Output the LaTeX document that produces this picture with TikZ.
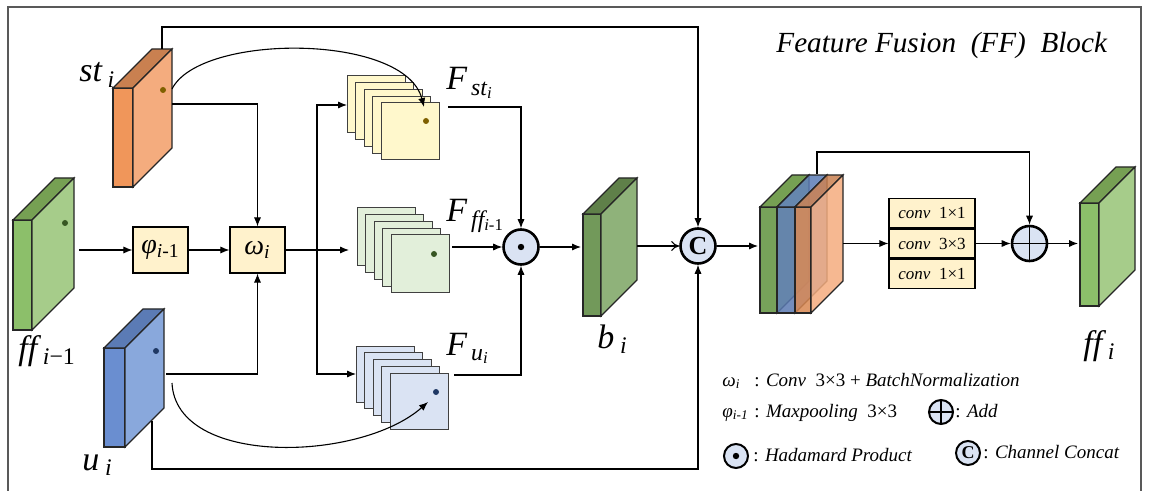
\documentclass[tikz,border=0pt]{standalone}
\usepackage{fontspec}
\setmainfont{Liberation Serif}
\usetikzlibrary{arrows.meta,positioning}

\definecolor{stfront}{HTML}{F0965A}
\definecolor{stside}{HTML}{F4AC7E}
\definecolor{sttop}{HTML}{C98050}
\definecolor{fffront}{HTML}{8CBF6A}
\definecolor{ffside}{HTML}{A6CC8A}
\definecolor{fftop}{HTML}{76A053}
\definecolor{ufront}{HTML}{6A8ED0}
\definecolor{uside}{HTML}{89A8DC}
\definecolor{utop}{HTML}{5B7BB5}
\definecolor{bfront}{HTML}{72995A}
\definecolor{bside}{HTML}{8FB27A}
\definecolor{btop}{HTML}{5F8049}
\definecolor{boxyellow}{HTML}{FFF2CC}
\definecolor{cardy}{HTML}{FFF8CC}
\definecolor{cardg}{HTML}{E2EFDA}
\definecolor{cardb}{HTML}{DAE3F3}
\definecolor{circfill}{HTML}{DAE3F3}
\definecolor{stdot}{HTML}{7F6000}
\definecolor{ffdot}{HTML}{375623}
\definecolor{udot}{HTML}{1F3864}

% feature map drawn as a slab: x y w h depth front side top
\newcommand{\slab}[8]{%
  \filldraw[slabline, fill=#6] (#1,#2) rectangle ++(#3,#4);
  \filldraw[slabline, fill=#8] (#1,#2) -- ++(#3,0) -- ++(#5,-#5) -- ++(-#3,0) -- cycle;
  \filldraw[slabline, fill=#7] (#1+#3,#2) -- ++(#5,-#5) -- ++(0,#4) -- ++(-#5,#5) -- cycle;
}
\newcommand{\sbs}[1]{\textsubscript{#1}}

\tikzset{
  slabline/.style={line width=0.6pt, draw=black!85},
  card/.style={line width=0.5pt, draw=black!75},
  conn/.style={line width=0.55pt},
  arr/.style={conn, -{Latex[length=4.5pt,width=3.6pt]}},
  frame/.style={line width=0.8pt, draw=black!65},
  opbox/.style={draw, line width=0.6pt, fill=boxyellow, minimum width=27.5pt, minimum height=23pt,
    inner sep=0pt, font=\fontsize{14}{16}\selectfont},
  convbox/.style={draw, line width=0.6pt, fill=boxyellow, minimum width=43pt, minimum height=14.5pt,
    inner sep=0pt, font=\fontsize{8.5}{10}\selectfont},
  opcirc/.style={circle, draw, line width=1.3pt, fill=circfill, minimum size=17.5pt, inner sep=0pt,
    font=\fontsize{13}{13}\selectfont},
  legcirc/.style={opcirc, line width=1pt, minimum size=12pt, font=\fontsize{9}{9}\selectfont},
  had/.style={path picture={\fill[black] (path picture bounding box.center) circle (1.6pt);}},
  plus/.style={path picture={\draw[black, line width=0.8pt]
    (path picture bounding box.north) -- (path picture bounding box.south)
    (path picture bounding box.west) -- (path picture bounding box.east);}},
  lbl/.style={inner sep=0pt, anchor=base west, font=\fontsize{17}{18}\selectfont\itshape},
  flbl/.style={inner sep=0pt, anchor=base west, font=\fontsize{17}{18}\selectfont\itshape},
  legtxt/.style={inner sep=0pt, anchor=base west, font=\fontsize{9.5}{11}\selectfont},
}

\begin{document}
\begin{tikzpicture}[x=0.5pt,y=-0.5pt]
    \useasboundingbox (0,0) rectangle (1149,491);
    \draw[frame] (8,491) -- (8,7) -- (1141,7) -- (1141,491);

    % inputs
    \slab{113}{88}{20}{99}{39}{stfront}{stside}{sttop}
    \slab{13}{220}{19}{110}{42}{fffront}{ffside}{fftop}
    \slab{104}{348}{21}{99}{39}{ufront}{uside}{utop}
    \fill[stdot] (163,90) circle (1.5pt);
    \fill[ffdot] (65,223) circle (1.5pt);
    \fill[udot] (156,351) circle (1.5pt);
    \node[lbl] (st) at (79,82) {st\,\sbs{i}};
    \node[lbl] (ffprev) at (18,359) {ff\,\sbs{i\upshape −1}};
    \node[lbl] (u) at (82,470) {u\,\sbs{i}};

    % stacks of maps
    \foreach \k in {0,...,4} {
      \filldraw[card, fill=cardy] (347+8.5*\k,76+6.75*\k) rectangle ++(58,57);
      \filldraw[card, fill=cardg] (357+8.5*\k,208+6.75*\k) rectangle ++(58,58);
      \filldraw[card, fill=cardb] (356+8.5*\k,346+6.75*\k) rectangle ++(58,56);
    }
    \fill[stdot] (426,121) circle (1.5pt);
    \fill[ffdot] (434,254) circle (1.5pt);
    \fill[udot] (436,392) circle (1.5pt);
    \node[flbl] (Fst) at (446,90) {F\sbs{\,st\sbs{i}}};
    \node[flbl] (Fff) at (446,222) {F\sbs{\,ff\sbs{i\upshape -1}}};
    \node[flbl] (Fu) at (446,355) {F\sbs{\,u\sbs{i}}};

    % operations
    \node[opbox] (phi) at (160.5,250) {\textit{φ}\sbs{\textit{i}-1}};
    \node[opbox] (omega) at (257.5,250) {\textit{ω}\sbs{\textit{i}}};
    \node[opcirc, had] (had) at (521,247) {};
    \node[opcirc] (cat) at (698,246) {\textbf{C}};
    \node[opcirc, plus] (add) at (1029.5,243.5) {};
    \node[convbox] (conv2) at (932,243.5) {\textit{conv}\ \ 3×3};
    \node[convbox, above=0pt of conv2] (conv1) {\textit{conv}\ \ 1×1};
    \node[convbox, below=0pt of conv2] (conv3) {\textit{conv}\ \ 1×1};

    % middle and output maps
    \slab{583}{214}{18}{102}{36}{bfront}{bside}{btop}
    \node[lbl] (b) at (597,348) {b\,\sbs{i}};
    \slab{760}{207}{17}{106}{32}{fffront!85!black}{ffside}{fftop}
    \begin{scope}[fill opacity=0.85]
    \slab{777}{207}{18}{106}{32}{ufront!85!black}{ufront}{utop}
    \slab{795}{207}{16}{106}{32}{stfront!90!black}{stside}{sttop}
    \end{scope}
    \slab{1080}{203}{19}{103}{36}{fffront}{ffside}{fftop}
    \node[lbl] (ffi) at (1083,354) {ff\,\sbs{i}};

    % connection points
    \coordinate (ffout) at (79,250);
    \coordinate (stout) at (172,104);
    \coordinate (stcurve) at (172,89);
    \coordinate (ucurve) at (172,383);
    \coordinate (uout) at (166,374);
    \coordinate (sttop) at (162,49);
    \coordinate (ubot) at (152,421);
    \coordinate (ctop) at (698,27);
    \coordinate (cbot) at (698,469);
    \coordinate (split) at (317,250);
    \coordinate (yin) at (347,105);
    \coordinate (gin) at (349,250);
    \coordinate (bin) at (356,374);
    \coordinate (ydot) at (424,107);
    \coordinate (bdot) at (428,402);
    \coordinate (yout) at (448,107);
    \coordinate (gout) at (452,247);
    \coordinate (bout) at (454,375);
    \coordinate (bi-in) at (581,247);
    \coordinate (bi-out) at (637,246);
    \coordinate (mix-in) at (758,246);
    \coordinate (mix-top) at (817,174);
    \coordinate (mix-out) at (843,243.5);
    \coordinate (addtop) at (1029.5,152);
    \coordinate (ffi-in) at (1078,243.5);

    \draw[arr] (ffout) -- (phi);
    \draw[arr] (phi) -- (omega);
    \draw[arr] (stout) -| (omega);
    \draw[arr] (uout) -| (omega);
    \draw[arr] (omega) -- (gin);
    \draw[arr] (split) |- (yin);
    \draw[arr] (split) |- (bin);
    \draw[arr] (stcurve) .. controls (200,33) and (405,33) .. (ydot);
    \draw[arr] (ucurve) .. controls (176,467) and (360,462) .. (bdot);
    \draw[arr] (yout) -| (had);
    \draw[arr] (gout) -- (had);
    \draw[arr] (bout) -| (had);
    \draw[arr] (had) -- (bi-in);
    \draw[conn, -{To[length=4pt,width=5pt]}] (bi-out) -- (cat);
    \draw[arr] (sttop) |- (ctop) -- (cat);
    \draw[arr] (ubot) |- (cbot) -- (cat);
    \draw[arr] (cat) -- (mix-in);
    \draw[arr] (mix-out) -- (conv2);
    \draw[arr] (conv2) -- (add);
    \draw[arr] (mix-top) |- (addtop) -- (add);
    \draw[arr] (add) -- (ffi-in);

    % title and legend
    \node[inner sep=0pt, anchor=base west, font=\fontsize{14.6}{16}\selectfont\itshape] (title) at (776,53)
      {Feature Fusion\enspace(FF)\enspace Block};
    \node[legtxt] (lomega) at (722,386) {\textit{ω}\sbs{\textit{i}}};
    \node[legtxt] (lomega-t) at (754,386) {: \textit{Conv}\ \ 3×3 + \textit{BatchNormalization}};
    \node[legtxt] (lphi) at (722,417) {\textit{φ}\sbs{\textit{i-1}}};
    \node[legtxt] (lphi-t) at (754,417) {: \textit{Maxpooling}\ \ 3×3};
    \node[legcirc, plus] (ladd) at (941,412) {};
    \node[legtxt] (ladd-t) at (955,417) {: \textit{Add}};
    \node[legcirc, had] (lhad) at (736,456) {};
    \node[legtxt] (lhad-t) at (753,461) {: \textit{Hadamard Product}};
    \node[legcirc] (lcat) at (968,453) {\textbf{C}};
    \node[legtxt] (lcat-t) at (983,458) {: \textit{Channel Concat}};
\end{tikzpicture}
\end{document}
